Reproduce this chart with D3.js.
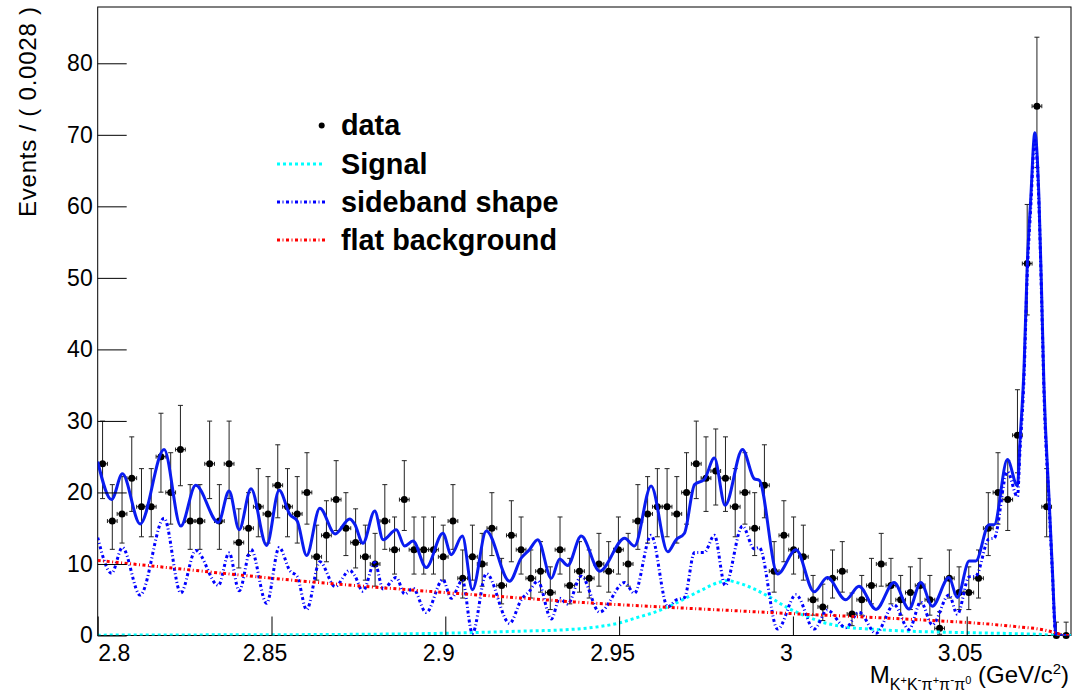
<!DOCTYPE html>
<html><head><meta charset="utf-8">
<script src="https://cdn.jsdelivr.net/npm/d3@7"></script>
<style>
body{margin:0;background:#fff}
text{font-family:"Liberation Sans",Arial,Helvetica,sans-serif;fill:#000}
</style>
</head><body>
<svg id="c" width="1072" height="697"></svg>
<script>
// ---------------- data ----------------
const binLow = 2.8, binWidth = 0.0028;
const counts = [24,16,17,22,18,18,25,20,26,16,
 16,24,16,24,13,15,18,17,21,18,
 17,20,11,14,19,15,13,11,10,16,
 12,19,12,12,12,11,16,8,11,10,
 15,7,14,12,8,9,6,12,7,9,
 8,10,9,12,10,16,17,18,18,17,
 20,24,22,23,22,18,20,15,21,9,
 14,12,11,5,4,8,9,3,5,7,
 10,7,5,6,7,5,1,8,6,6,
 8,15,20,19,28,52,74,18,0,0];

const fitMass = [2.8000,2.8040,2.8071,2.8122,2.8191,2.8239,2.8282,2.8347,2.8378,2.8407,
 2.8441,2.8486,2.8522,2.8553,2.8574,2.8601,2.8639,2.8683,2.8725,2.8739,
 2.8763,2.8797,2.8821,2.8859,2.8883,2.8907,2.8945,2.8993,2.9017,2.9049,
 2.9078,2.9118,2.9185,2.9218,2.9242,2.9266,2.9305,2.9329,2.9352,2.9391,
 2.9444,2.9516,2.9544,2.9592,2.9640,2.9664,2.9688,2.9717,2.9745,2.9774,
 2.9805,2.9855,2.9889,2.9903,2.9956,3.0009,3.0061,3.0099,3.0152,3.0190,
 3.0239,3.0291,3.0334,3.0368,3.0401,3.0449,3.0473,3.0507,3.0526,3.0564,
 3.0579,3.0617,3.0646,3.0653,3.0665,3.0674,3.0684,3.0696,3.0708,3.0716,
 3.0722,3.0737,3.0746,3.0756,3.0765,3.0800];

const totalFit = [24.3,19.0,22.6,15.6,26.0,15.3,21.0,15.8,20.2,14.8,
 20.5,12.6,20.3,16.9,16.0,11.2,17.8,14.2,16.3,15.6,
 12.9,17.4,13.4,14.8,12.5,13.2,9.5,14.3,11.3,13.9,
 6.4,14.6,7.6,10.8,12.0,13.4,8.0,10.7,9.8,13.9,
 9.0,13.6,12.5,20.9,11.7,13.4,14.3,21.1,21.8,24.8,
 18.2,26.0,21.9,21.7,8.6,12.0,6.1,8.1,5.0,6.9,
 3.65,7.4,3.7,7.4,4.1,8.1,5.3,10.4,10.4,15.5,
 15.5,24.6,20.9,27,37.6,51.6,60.9,70.3,60.9,46.9,
 35.3,19.0,9.7,0.4,0,0];

const sidebandFit = [13.7,8.7,12.3,5.65,16.4,5.95,11.9,7.0,11.55,6.25,
 12.05,4.5,12.3,9.05,8.25,3.6,10.3,6.85,9.1,8.4,
 6.2,10.2,6.5,8.1,5.8,6.6,3.2,7.8,5.2,7.7,
 0.3,8.65,1.7,4.95,6.2,7.6,2.3,5.2,4.4,8.3,
 3.27,7.4,5.9,14.0,4.0,4.96,5.3,11.6,11.6,14.0,
 7.0,15.3,12.1,12.3,0.9,5.7,0.9,3.55,1.1,3.25,
 0.3,4.3,0.83,4.67,1.5,5.67,2.96,8.2,8.3,13.5,
 13.6,22.9,19.4,25.6,36.3,50.3,59.7,69.2,59.9,45.95,
 34.4,18.35,9.2,0.07,0,0];

const signalMass = [2.800,2.840,2.8668,2.905,2.9214,2.9358,2.9444,2.9502,2.9549,2.9597,
 2.9645,2.9693,2.9740,2.9788,2.9812,2.9836,2.9884,2.9932,2.9980,3.0028,
 3.0076,3.0143,3.0239,3.0334,3.0430,3.0526,3.0622,3.0717,3.0765,3.080];
const signalFit = [0.05,0.1,0.14,0.37,0.6,0.84,1.25,1.77,2.47,3.17,
 4.1,5.26,6.42,7.45,7.68,7.45,6.6,5.4,4.0,2.9,
 2.0,1.25,0.85,0.6,0.47,0.37,0.28,0.14,0,0];

const flatMass = [2.800,2.820,2.840,2.860,2.880,2.900,2.920,2.940,2.960,2.980,
 3.000,3.020,3.040,3.055,3.065,3.072,3.076,3.078,3.080];
const flatFit = [10.5,9.5,8.5,7.55,6.75,6.0,5.3,4.6,4.05,3.55,
 3.05,2.6,2.1,1.65,1.2,0.8,0.3,0.0,0.0];

const xTicks = [2.8,2.85,2.9,2.95,3.0,3.05];
const xTickLabels = ["2.8","2.85","2.9","2.95","3","3.05"];
const yTicks = [0,10,20,30,40,50,60,70,80];
const yTickLabels = ["0","10","20","30","40","50","60","70","80"];
const legendLabels = ["data","Signal","sideband shape","flat background"];
const yTitle = "Events / ( 0.0028 )";

// ---------------- layout ----------------
const L = 97.7, R = 1071, T = 7, B = 635.5;
const x = d3.scaleLinear().domain([2.8, 3.08]).range([L, R]);
const y = d3.scaleLinear().domain([0, 87.87]).range([B, T]);
const svg = d3.select("#c");

svg.append("defs").append("clipPath").attr("id","clip")
  .append("rect").attr("x",L).attr("y",T).attr("width",R-L).attr("height",B-T);

// frame
svg.append("rect").attr("x",L).attr("y",T).attr("width",R-L).attr("height",B-T)
  .attr("fill","none").attr("stroke","#000").attr("stroke-width",1);

// ---------------- data points ----------------
const pts = counts.map((n,i)=>{
  const c = binLow + (i+0.5)*binWidth;
  const up = n + Math.sqrt(n+0.75) + 1;
  const lo = n>0 ? n*Math.pow(1 - 1/(9*n) - 1/(3*Math.sqrt(n)),3) : 0;
  return {c, n, up, lo, x0: binLow+i*binWidth, x1: binLow+(i+1)*binWidth};
});
const gd = svg.append("g").attr("clip-path","url(#clip)").attr("stroke","#222").attr("stroke-width",1);
pts.forEach(p=>{
  const cx = x(p.c), cy = y(p.n);
  gd.append("line").attr("x1",cx).attr("x2",cx).attr("y1",y(p.lo)).attr("y2",y(p.up));
  gd.append("line").attr("x1",cx-2.5).attr("x2",cx+2.5).attr("y1",y(p.up)).attr("y2",y(p.up));
  if (p.n>0) gd.append("line").attr("x1",cx-2.5).attr("x2",cx+2.5).attr("y1",y(p.lo)).attr("y2",y(p.lo));
  gd.append("line").attr("x1",x(p.x0)).attr("x2",x(p.x1)).attr("y1",cy).attr("y2",cy);
  gd.append("line").attr("x1",x(p.x0)).attr("x2",x(p.x0)).attr("y1",cy-2).attr("y2",cy+2);
  gd.append("line").attr("x1",x(p.x1)).attr("x2",x(p.x1)).attr("y1",cy-2).attr("y2",cy+2);
});
svg.append("g").selectAll("circle").data(pts).join("circle")
  .attr("cx",d=>x(d.c)).attr("cy",d=>y(d.n)).attr("r",3.5).attr("fill","#000");

// ---------------- curves ----------------
const mk = (xs, ys) => xs.map((m,i)=>[m, ys[i]]);
const line = d3.line().x(d=>x(d[0])).y(d=>y(d[1])).curve(d3.curveMonotoneX);
const gc = svg.append("g").attr("clip-path","url(#clip)").attr("fill","none");
gc.append("path").attr("d", line(mk(fitMass,totalFit)))
  .attr("stroke","#0a1cf0").attr("stroke-width",3).attr("stroke-linejoin","round");
gc.append("path").attr("d", line(mk(signalMass,signalFit)))
  .attr("stroke","#00ffff").attr("stroke-width",3).attr("stroke-dasharray","3,3");
gc.append("path").attr("d", line(mk(fitMass,sidebandFit)))
  .attr("stroke","#0000ff").attr("stroke-width",3).attr("stroke-dasharray","3,2.5,1,2.5");
gc.append("path").attr("d", line(mk(flatMass,flatFit)))
  .attr("stroke","#ff0000").attr("stroke-width",3).attr("stroke-dasharray","3,2.5,1,2.5");

// ---------------- axes ----------------
const yMinor = d3.range(0, 88, 2);
const gy = svg.append("g").attr("transform",`translate(${L},0)`);
gy.call(d3.axisLeft(y).tickValues(yMinor).tickSize(-14.5).tickFormat(""));
gy.call(d3.axisLeft(y).tickValues(yTicks).tickSize(-29).tickPadding(5)
  .tickFormat((d,i)=>yTickLabels[i]));
gy.selectAll(".domain").remove();
gy.selectAll("line").attr("stroke","#000");
gy.selectAll("text").attr("font-size",23).attr("font-family","Liberation Sans, Arial, sans-serif");

const xMinor = d3.range(0, 29).map(k => 2.8 + k*0.01);
const gx = svg.append("g").attr("transform",`translate(0,${B})`);
gx.call(d3.axisBottom(x).tickValues(xMinor).tickSize(-9.5).tickFormat(""));
gx.call(d3.axisBottom(x).tickValues(xTicks).tickSize(-19).tickPadding(9)
  .tickFormat((d,i)=>xTickLabels[i]));
gx.selectAll(".domain").remove();
gx.selectAll("line").attr("stroke","#000");
gx.selectAll("text").attr("font-size",23).attr("font-family","Liberation Sans, Arial, sans-serif")
  .attr("dx",(d,i)=> i===0 ? 0 : -7)
  .attr("text-anchor",(d,i)=> i===0 ? "start" : "middle");

// axis titles
svg.append("text").attr("transform","translate(36,7) rotate(-90)")
  .attr("text-anchor","end").attr("font-size",24)
  .attr("textLength",210).attr("lengthAdjust","spacing").text(yTitle);

const xt = svg.append("text").attr("x",1069).attr("y",683).attr("text-anchor","end").attr("font-size",24);
const parts = [
  ["M",24,0],["K",16,7],["+",11,-6],["K",16,6],["-",12,-6],["π",16,6],["+",11,-6],
  ["π",16,6],["-",12,-6],["π",16,6],["0",11,-6],[" (GeV/c",24,-1],["2",15,-9],[")",24,9]
];
parts.forEach(p=> xt.append("tspan").attr("font-size",p[1]).attr("dy",p[2]).text(p[0]));

// ---------------- legend ----------------
const legY = [125.5, 164, 202, 240];
const lg = svg.append("g");
lg.append("circle").attr("cx",321.7).attr("cy",legY[0]).attr("r",3).attr("fill","#000");
const legStyles = [null,
  {c:"#00ffff", d:"3,3"}, {c:"#0000ff", d:"3,2.5,1,2.5"}, {c:"#ff0000", d:"3,2.5,1,2.5"}];
legStyles.forEach((s,i)=>{ if(!s) return;
  lg.append("line").attr("x1",277).attr("x2",325).attr("y1",legY[i]).attr("y2",legY[i])
    .attr("stroke",s.c).attr("stroke-width",3).attr("stroke-dasharray",s.d);
});
legendLabels.forEach((t,i)=>{
  lg.append("text").attr("x",341).attr("y",legY[i]+9.5).attr("font-size",28.8)
    .attr("font-weight","bold").text(t);
});
</script>
</body></html>
